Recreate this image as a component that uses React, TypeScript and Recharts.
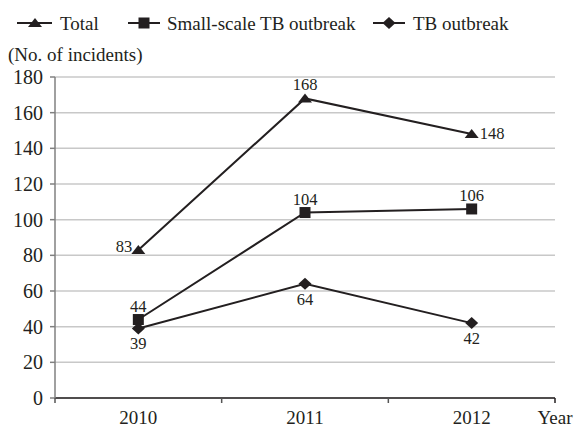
import React from 'react';
import { LineChart, Line, XAxis, YAxis, CartesianGrid, LabelList, Legend } from 'recharts';

const years = ['2010', '2011', '2012'];
const totalValues = [83, 168, 148];
const smallScaleValues = [44, 104, 106];
const tbOutbreakValues = [39, 64, 42];
const yTicks = [0, 20, 40, 60, 80, 100, 120, 140, 160, 180];

const data = years.map((y, i) => ({
  year: y,
  total: totalValues[i],
  small: smallScaleValues[i],
  tb: tbOutbreakValues[i],
}));

const FONT = "'Liberation Serif', 'DejaVu Serif', serif";
const INK = '#231f20';
const TXT = { fontFamily: FONT };

const W = 577;
const H = 427;
const LEFT = 55;
const RIGHT = 22;
const LEGEND_H = 40;
const PLOT_W = W - LEFT - RIGHT;
const HALF_BAND = PLOT_W / years.length / 2;

const Triangle = ({ cx, cy }: any) =>
  cx == null ? null : (
    <polygon points={`${cx - 7},${cy + 4} ${cx + 7},${cy + 4} ${cx},${cy - 5}`} fill={INK} />
  );
const Square = ({ cx, cy }: any) =>
  cx == null ? null : <rect x={cx - 5.5} y={cy - 5.5} width={11} height={11} fill={INK} />;
const Diamond = ({ cx, cy }: any) =>
  cx == null ? null : (
    <polygon points={`${cx},${cy - 6} ${cx + 6.5},${cy} ${cx},${cy + 6} ${cx - 6.5},${cy}`} fill={INK} />
  );

const makeLabel = (positions: string[]) => (props: any) => {
  const { x, y, value, index } = props;
  const pos = positions[index];
  let tx = x;
  let ty = y;
  let anchor: any = 'middle';
  if (pos === 'top') ty = y - 8;
  else if (pos === 'bottom') ty = y + 21;
  else if (pos === 'left') {
    tx = x - 6;
    ty = y + 2;
    anchor = 'end';
  } else if (pos === 'right') {
    tx = x + 8;
    ty = y + 5;
    anchor = 'start';
  }
  return (
    <text x={tx} y={ty} textAnchor={anchor} style={TXT} fontSize={16.5} fill={INK}>
      {value}
    </text>
  );
};

const XTick = (props: any) => {
  const { x, y, payload, index } = props;
  return (
    <g>
      <line x1={x - HALF_BAND} x2={x - HALF_BAND} y1={y} y2={y + 5} stroke="#555" strokeWidth={1.5} />
      {index === years.length - 1 && (
        <line x1={x + HALF_BAND} x2={x + HALF_BAND} y1={y} y2={y + 5} stroke={INK} strokeWidth={1.5} />
      )}
      <text x={x} y={y + 26} textAnchor="middle" style={TXT} fontSize={19} fill={INK}>
        {payload.value}
      </text>
    </g>
  );
};

const YTick = (props: any) => {
  const { x, y, payload } = props;
  return (
    <text x={x} y={y + 7} textAnchor="end" style={TXT} fontSize={20} fill={INK}>
      {payload.value}
    </text>
  );
};

const LegendContent = () => (
  <svg width={W} height={LEGEND_H} style={{ display: 'block' }}>
    <g stroke={INK} strokeWidth={2}>
      <line x1={17} x2={52} y1={23} y2={23} />
      <line x1={128} x2={160} y1={23} y2={23} />
      <line x1={373} x2={405} y1={23} y2={23} />
    </g>
    <Triangle cx={35} cy={23} />
    <Square cx={144} cy={23} />
    <Diamond cx={389} cy={23} />
    <g style={TXT} fontSize={19} fill={INK}>
      <text x={60} y={30} style={TXT}>Total</text>
      <text x={167} y={30} style={TXT}>Small-scale TB outbreak</text>
      <text x={413} y={30} style={TXT}>TB outbreak</text>
    </g>
  </svg>
);

export default function App() {
  return (
    <div
      style={{ position: 'absolute', left: 0, top: 0, width: W, height: H, background: '#fff', fontFamily: FONT }}
    >
      <LineChart
        width={W}
        height={H}
        data={data}
        margin={{ top: 77 - LEGEND_H, right: RIGHT, bottom: 0, left: 0 }}
        style={TXT}
      >
        <CartesianGrid vertical={false} stroke="#c8c8c8" strokeWidth={1.5} />
        <Legend
          verticalAlign="top"
          height={LEGEND_H}
          content={<LegendContent />}
          wrapperStyle={{ position: 'absolute', top: 0, left: 0, width: W, height: LEGEND_H }}
        />
        <XAxis
          dataKey="year"
          height={29}
          padding={{ left: HALF_BAND, right: HALF_BAND }}
          axisLine={{ stroke: INK, strokeWidth: 1.5 }}
          tickLine={false}
          tickSize={0}
          tickMargin={0}
          tick={<XTick />}
          interval={0}
          label={({ viewBox }: any) => (
            <text
              x={viewBox.x + viewBox.width}
              y={viewBox.y + 26}
              textAnchor="middle"
              style={TXT}
              fontSize={19}
              fill={INK}
            >
              Year
            </text>
          )}
        />
        <YAxis
          width={LEFT}
          domain={[0, 180]}
          ticks={yTicks}
          interval={0}
          axisLine={{ stroke: '#808080', strokeWidth: 1.5 }}
          tickLine={{ stroke: '#808080', strokeWidth: 1.5 }}
          tickSize={5}
          tickMargin={7}
          tick={<YTick />}
          label={({ viewBox }: any) => (
            <text x={8} y={viewBox.y - 16} style={TXT} fontSize={19} fill={INK}>
              (No. of incidents)
            </text>
          )}
        />
        <Line
          dataKey="total"
          stroke={INK}
          strokeWidth={2}
          dot={<Triangle />}
          activeDot={false}
          isAnimationActive={false}
        >
          <LabelList dataKey="total" content={makeLabel(['left', 'top', 'right'])} />
        </Line>
        <Line
          dataKey="small"
          stroke={INK}
          strokeWidth={2}
          dot={<Square />}
          activeDot={false}
          isAnimationActive={false}
        >
          <LabelList dataKey="small" content={makeLabel(['top', 'top', 'top'])} />
        </Line>
        <Line
          dataKey="tb"
          stroke={INK}
          strokeWidth={2}
          dot={<Diamond />}
          activeDot={false}
          isAnimationActive={false}
        >
          <LabelList dataKey="tb" content={makeLabel(['bottom', 'bottom', 'bottom'])} />
        </Line>
      </LineChart>
    </div>
  );
}
